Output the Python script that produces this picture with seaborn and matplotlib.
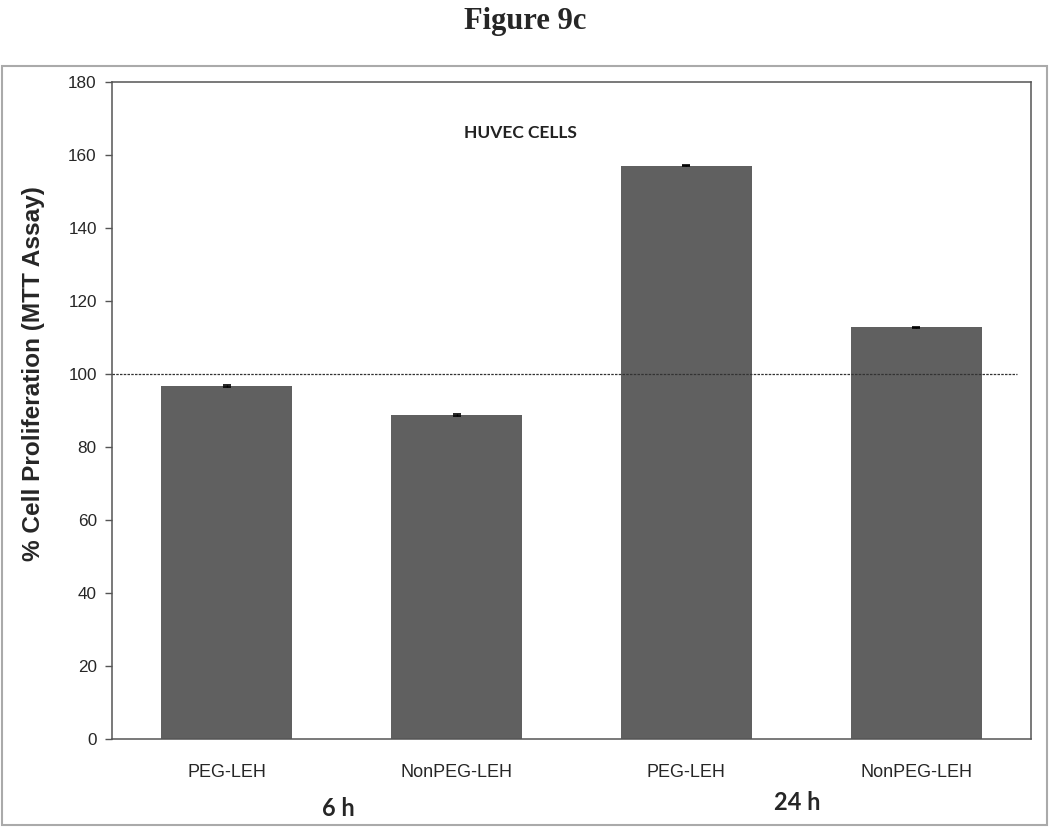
import matplotlib
matplotlib.use("Agg")
import matplotlib.pyplot as plt
import seaborn as sns
import pandas as pd
from matplotlib.patches import Rectangle

# Data
bar_ids = ["6h_PEG", "6h_NonPEG", "24h_PEG", "24h_NonPEG"]
tick_labels = ["PEG-LEH", "NonPEG-LEH", "PEG-LEH", "NonPEG-LEH"]
values = [96.8, 88.8, 157.1, 112.8]
errors = [0.3, 0.2, 0.2, 0.2]
group_labels = ["6 h", "24 h"]
reference_value = 100
y_ticks = [0, 20, 40, 60, 80, 100, 120, 140, 160, 180]

sns.set_theme(style="white")
plt.rcParams['font.family'] = ['Liberation Sans', 'DejaVu Sans']

df = pd.DataFrame({"id": bar_ids, "value": values})

fig = plt.figure(figsize=(10.5, 8.27), dpi=100)
ax = fig.add_axes([0.1067, 0.1064, 0.9819 - 0.1067, 0.9008 - 0.1064])

sns.barplot(data=df, x="id", y="value", order=bar_ids, color="#606060",
            saturation=1, width=0.57, errorbar=None, ax=ax, linewidth=0)
ax.errorbar(range(len(values)), values, yerr=errors, fmt="none",
            ecolor="black", elinewidth=1, capsize=3, capthick=1.2, zorder=5)

ax.axhline(reference_value, xmin=0, xmax=0.985, color="#333333",
           linestyle=(0, (2, 1)), linewidth=0.9, zorder=4)

ax.set_ylim(0, 180)
ax.set_xlim(-0.5, 3.5)
ax.set_yticks(y_ticks)
ax.set_yticklabels([str(t) for t in y_ticks], fontsize=12.3)
ax.set_xticks(range(len(tick_labels)))
ax.set_xticklabels(tick_labels, fontsize=13)
ax.tick_params(axis="x", length=0, pad=18)
ax.tick_params(axis="y", length=5, width=1, direction="out", color="#555555", pad=6, left=True)
ax.set_xlabel("")
ax.set_ylabel("% Cell Proliferation (MTT Assay)", fontsize=17.6, fontweight="bold")
ax.yaxis.set_label_coords(-0.073, 0.556)

for s in ax.spines.values():
    s.set_visible(True)
    s.set_color("#555555")
    s.set_linewidth(1.1)

ax.text(0.4443, 0.922, "HUVEC CELLS", transform=ax.transAxes, ha="center", va="center",
        fontsize=12.5, fontweight="bold", family=["Lato", "DejaVu Sans"], color="#222222")

# group labels below
fig.text(338 / 1050, 1 - 808 / 827, group_labels[0], ha="center", va="center",
         fontsize=17, fontweight="bold", family=["Lato", "DejaVu Sans"])
fig.text(797 / 1050, 1 - 803 / 827, group_labels[1], ha="center", va="center",
         fontsize=17, fontweight="bold", family=["Lato", "DejaVu Sans"])

fig.text(0.5, 1 - 22 / 827, "Figure 9c", ha="center", va="center",
         fontsize=22, fontweight="bold", family=["Liberation Serif", "DejaVu Serif"])

frame = Rectangle((2 / 1050, 1 - 825 / 827), 1045 / 1050, (825 - 66) / 827,
                  transform=fig.transFigure, fill=False, edgecolor="#aaaaaa",
                  linewidth=1.5)
fig.patches.append(frame)

fig.savefig("out.png", dpi=100, facecolor="white")
